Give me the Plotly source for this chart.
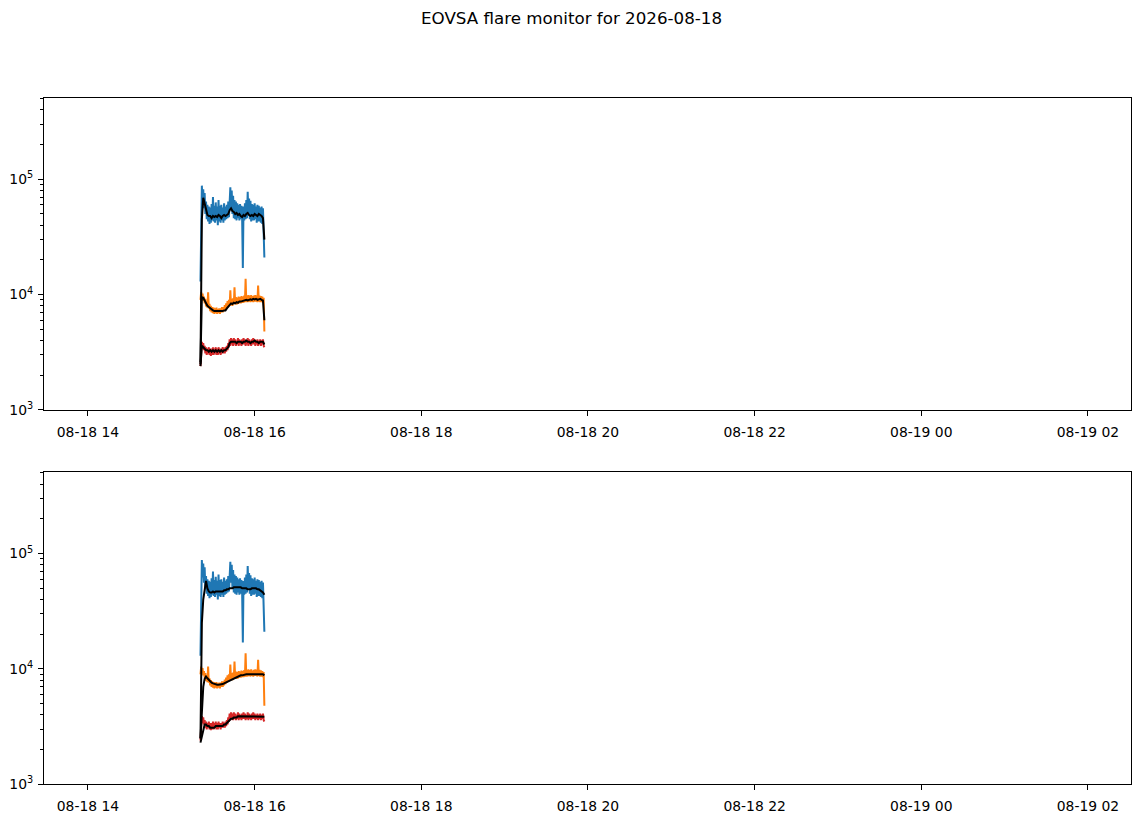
import pandas as pd
import plotly.graph_objects as go

# raw flux, three channels, sampled every 30 s from 15:21 UT
blue = [1.3e4, 4.0e4, 8.8e4, 6.2e4, 8.2e4, 5.6e4, 7.6e4, 5.0e4, 6.4e4, 4.5e4,
        6.0e4, 4.3e4, 5.8e4, 4.1e4, 5.7e4, 4.2e4, 6.1e4, 4.4e4, 7.0e4, 4.3e4,
        5.9e4, 4.2e4, 6.3e4, 4.4e4, 5.8e4, 4.0e4, 6.6e4, 4.3e4, 5.9e4, 4.2e4,
        6.0e4, 4.4e4, 5.7e4, 4.2e4, 6.2e4, 4.4e4, 5.8e4, 4.5e4, 6.0e4, 4.6e4,
        6.4e4, 4.7e4, 7.0e4, 8.5e4, 5.6e4, 8.0e4, 5.0e4, 7.2e4, 4.6e4, 6.6e4,
        4.5e4, 6.4e4, 4.4e4, 6.2e4, 4.6e4, 6.0e4, 4.4e4, 6.1e4, 4.5e4, 5.9e4,
        4.6e4, 1.7e4, 5.8e4, 4.4e4, 6.2e4, 4.5e4, 6.6e4, 4.6e4, 7.8e4, 5.0e4,
        6.8e4, 4.5e4, 6.5e4, 4.3e4, 6.1e4, 4.4e4, 6.0e4, 4.4e4, 6.2e4, 4.5e4,
        5.8e4, 4.2e4, 6.0e4, 4.3e4, 5.9e4, 4.3e4, 5.7e4, 4.2e4, 5.8e4, 4.1e4,
        5.6e4, 4.0e4, 2.1e4]
orange = [9.0e3, 1.05e4, 9.4e3, 1.02e4, 8.8e3, 9.6e3, 8.4e3, 9.2e3, 7.9e3, 8.6e3,
          7.7e3, 1.05e4, 7.6e3, 8.3e3, 7.2e3, 8.0e3, 7.0e3, 7.8e3, 6.9e3, 7.7e3,
          6.8e3, 7.6e3, 6.9e3, 7.7e3, 6.8e3, 7.5e3, 6.9e3, 7.6e3, 6.8e3, 7.6e3,
          7.0e3, 7.8e3, 7.0e3, 7.8e3, 7.2e3, 8.1e3, 7.4e3, 8.4e3, 7.6e3, 8.8e3,
          7.8e3, 9.0e3, 8.0e3, 1.09e4, 8.1e3, 9.2e3, 8.0e3, 9.3e3, 8.2e3, 1.16e4,
          8.3e3, 9.5e3, 8.2e3, 9.4e3, 8.3e3, 9.6e3, 8.4e3, 9.5e3, 8.4e3, 9.7e3,
          8.5e3, 9.6e3, 8.5e3, 9.8e3, 8.6e3, 1.37e4, 8.6e3, 9.8e3, 8.6e3, 9.9e3,
          8.7e3, 9.8e3, 8.6e3, 9.9e3, 8.7e3, 9.7e3, 8.6e3, 9.8e3, 8.7e3, 9.9e3,
          8.7e3, 9.8e3, 8.6e3, 1.2e4, 8.7e3, 9.8e3, 8.6e3, 9.7e3, 8.6e3, 9.6e3,
          8.5e3, 9.4e3, 4.8e3]
red = [2.4e3, 3.0e3, 3.9e3, 3.4e3, 3.8e3, 3.3e3, 3.6e3, 3.1e3, 3.5e3, 3.0e3,
       3.4e3, 3.1e3, 3.5e3, 3.0e3, 3.4e3, 2.95e3, 3.4e3, 3.0e3, 3.5e3, 3.0e3,
       3.4e3, 3.1e3, 3.5e3, 3.0e3, 3.4e3, 3.0e3, 3.5e3, 3.1e3, 3.4e3, 3.0e3,
       3.4e3, 3.1e3, 3.5e3, 3.1e3, 3.4e3, 3.1e3, 3.5e3, 3.2e3, 3.6e3, 3.3e3,
       3.8e3, 3.5e3, 4.1e3, 3.6e3, 4.2e3, 3.7e3, 4.1e3, 3.6e3, 4.2e3, 3.7e3,
       4.1e3, 3.6e3, 4.0e3, 3.7e3, 4.2e3, 3.6e3, 4.1e3, 3.7e3, 4.0e3, 3.6e3,
       4.1e3, 3.7e3, 4.2e3, 3.7e3, 4.1e3, 3.6e3, 4.0e3, 3.7e3, 4.2e3, 3.6e3,
       4.1e3, 3.7e3, 4.0e3, 3.6e3, 4.1e3, 3.7e3, 4.2e3, 3.7e3, 4.1e3, 3.6e3,
       4.0e3, 3.7e3, 4.1e3, 3.6e3, 4.0e3, 3.7e3, 4.1e3, 3.6e3, 4.0e3, 3.7e3,
       4.1e3, 3.6e3, 3.5e3]

# smoothed curves (one per minute from 15:21), top panel
top_blue = [2.5e3, 4.5e4, 6.9e4, 6.0e4, 5.3e4, 4.9e4, 4.8e4, 4.8e4,
            4.6e4, 4.8e4, 4.7e4, 4.8e4, 4.7e4, 4.9e4, 4.8e4, 4.6e4,
            4.8e4, 4.9e4, 4.8e4, 4.9e4, 5.0e4, 5.4e4, 5.6e4, 5.3e4,
            5.2e4, 5.0e4, 5.1e4, 4.9e4, 5.0e4, 4.8e4, 4.7e4, 4.9e4,
            4.8e4, 5.0e4, 5.1e4, 4.9e4, 4.8e4, 4.9e4, 4.8e4, 5.0e4,
            4.9e4, 4.8e4, 5.0e4, 4.9e4, 4.8e4, 4.6e4, 3.0e4]
top_orange = [2.6e3, 9.5e3, 9.4e3, 8.8e3, 8.3e3, 8.0e3, 7.8e3, 7.6e3,
              7.4e3, 7.3e3, 7.2e3, 7.2e3, 7.1e3, 7.2e3, 7.2e3, 7.1e3,
              7.2e3, 7.3e3, 7.3e3, 7.6e3, 7.9e3, 8.1e3, 8.4e3, 8.3e3,
              8.5e3, 8.4e3, 8.6e3, 8.5e3, 8.7e3, 8.7e3, 8.8e3, 8.8e3,
              8.9e3, 9.0e3, 8.9e3, 9.0e3, 9.1e3, 9.0e3, 9.2e3, 9.1e3,
              9.2e3, 9.0e3, 9.1e3, 9.2e3, 9.0e3, 8.9e3, 6.0e3]
top_red = [2.4e3, 3.6e3, 3.5e3, 3.4e3, 3.3e3, 3.3e3, 3.2e3, 3.3e3,
           3.2e3, 3.3e3, 3.2e3, 3.3e3, 3.2e3, 3.3e3, 3.2e3, 3.3e3,
           3.2e3, 3.3e3, 3.3e3, 3.4e3, 3.5e3, 3.8e3, 3.9e3, 3.9e3,
           3.9e3, 3.9e3, 3.8e3, 3.9e3, 3.9e3, 3.9e3, 3.8e3, 3.9e3,
           3.9e3, 4.0e3, 3.9e3, 3.9e3, 3.8e3, 3.9e3, 3.9e3, 4.0e3,
           3.9e3, 3.9e3, 3.8e3, 3.9e3, 3.9e3, 3.9e3, 3.7e3]

# smoothed curves, bottom panel
bot_blue = [2.5e3, 2.5e4, 4.0e4, 5.0e4, 5.8e4, 5.0e4, 4.7e4, 4.6e4,
            4.6e4, 4.7e4, 4.6e4, 4.7e4, 4.7e4, 4.7e4, 4.7e4, 4.7e4,
            4.7e4, 4.8e4, 4.8e4, 4.9e4, 4.9e4, 5.0e4, 5.0e4, 5.0e4,
            5.1e4, 5.1e4, 5.1e4, 5.1e4, 5.1e4, 5.1e4, 5.0e4, 5.0e4,
            5.0e4, 5.0e4, 4.9e4, 4.9e4, 4.9e4, 5.0e4, 5.0e4, 5.0e4,
            5.0e4, 4.9e4, 4.9e4, 4.8e4, 4.7e4, 4.6e4, 4.4e4]
bot_orange = [2.5e3, 5.0e3, 7.0e3, 8.2e3, 8.6e3, 8.3e3, 8.0e3, 7.8e3,
              7.6e3, 7.5e3, 7.4e3, 7.3e3, 7.3e3, 7.3e3, 7.3e3, 7.3e3,
              7.4e3, 7.5e3, 7.6e3, 7.7e3, 7.8e3, 8.0e3, 8.1e3, 8.2e3,
              8.3e3, 8.4e3, 8.5e3, 8.6e3, 8.7e3, 8.8e3, 8.8e3, 8.9e3,
              8.9e3, 9.0e3, 9.0e3, 9.0e3, 9.1e3, 9.1e3, 9.1e3, 9.1e3,
              9.1e3, 9.1e3, 9.1e3, 9.1e3, 9.1e3, 9.0e3, 8.8e3]
bot_red = [2.3e3, 2.6e3, 3.0e3, 3.3e3, 3.3e3, 3.2e3, 3.2e3, 3.1e3,
           3.1e3, 3.1e3, 3.1e3, 3.2e3, 3.2e3, 3.2e3, 3.2e3, 3.2e3,
           3.2e3, 3.3e3, 3.3e3, 3.4e3, 3.5e3, 3.6e3, 3.7e3, 3.7e3,
           3.8e3, 3.8e3, 3.8e3, 3.9e3, 3.9e3, 3.9e3, 3.9e3, 3.9e3,
           3.9e3, 3.9e3, 3.9e3, 3.9e3, 3.9e3, 3.9e3, 3.9e3, 3.9e3,
           3.9e3, 3.9e3, 3.9e3, 3.9e3, 3.9e3, 3.9e3, 3.85e3]

xticks = ["2026-08-18 14:00", "2026-08-18 16:00", "2026-08-18 18:00", "2026-08-18 20:00",
          "2026-08-18 22:00", "2026-08-19 00:00", "2026-08-19 02:00"]
xticklabels = ["08-18 14", "08-18 16", "08-18 18", "08-18 20", "08-18 22", "08-19 00", "08-19 02"]
yticks = [1e3, 1e4, 1e5]
yticklabels = ["10<sup>3</sup>", "10<sup>4</sup>", "10<sup>5</sup>"]
yminor = [m * 10 ** e for e in (3, 4, 5) for m in range(2, 10)]

t_raw = pd.date_range("2026-08-18 15:21", periods=len(blue), freq="30s")
t_smooth = pd.date_range("2026-08-18 15:21", periods=len(top_blue), freq="60s")

W, H = 1143, 826
fig = go.Figure()

panels = [
    ("x", "y", top_blue, top_orange, top_red),
    ("x2", "y2", bot_blue, bot_orange, bot_red),
]
for xa, ya, sb, so, sr in panels:
    for vals, col in [(blue, "#1f77b4"), (orange, "#ff7f0e"), (red, "#d62728")]:
        fig.add_trace(go.Scatter(x=t_raw, y=vals, mode="lines", line=dict(color=col, width=2),
                                 xaxis=xa, yaxis=ya, showlegend=False, hoverinfo="skip"))
    for vals in (sb, so, sr):
        fig.add_trace(go.Scatter(x=t_smooth, y=vals, mode="lines", line=dict(color="black", width=2),
                                 xaxis=xa, yaxis=ya, showlegend=False, hoverinfo="skip"))


def ydom(top_px, bot_px):
    return [(H - bot_px) / H, (H - top_px) / H]


common_x = dict(
    type="date", range=["2026-08-18 13:28:20", "2026-08-19 02:31:00"],
    tickmode="array", tickvals=xticks, ticktext=xticklabels,
    showgrid=False, zeroline=False, showline=True, linecolor="black", linewidth=1,
    mirror=True, ticks="outside", ticklen=5, tickcolor="black", ticklabelstandoff=4,
    tickfont=dict(family="DejaVu Sans", size=13.9, color="black"),
    domain=[44 / W, 1131 / W],
)
common_y = dict(
    type="log", range=[3, 5.704],
    tickmode="array", tickvals=yticks, ticktext=yticklabels,
    showgrid=False, zeroline=False, showline=True, linecolor="black", linewidth=1,
    mirror=True, ticks="outside", ticklen=5, tickcolor="black", ticklabelstandoff=2,
    minor=dict(tickvals=yminor, ticks="outside", ticklen=3, tickcolor="black", showgrid=False),
    tickfont=dict(family="DejaVu Sans", size=13.9, color="black"),
)

fig.update_layout(
    width=W, height=H,
    margin=dict(l=0, r=0, t=0, b=0),
    paper_bgcolor="white", plot_bgcolor="white",
    xaxis=dict(common_x, anchor="y"),
    yaxis=dict(common_y, domain=ydom(99, 414), anchor="x"),
    xaxis2=dict(common_x, anchor="y2"),
    yaxis2=dict(common_y, domain=ydom(477, 792), anchor="x2"),
    annotations=[dict(
        text="EOVSA flare monitor for 2026-08-18", x=571 / W, y=(H - 18) / H,
        xref="paper", yref="paper", xanchor="center", yanchor="middle", showarrow=False,
        font=dict(family="DejaVu Sans", size=16.7, color="black"),
    )],
)

# drop the default page margin so the figure fills the window exactly
fig.write_html("out.html", config={"displayModeBar": False},
               post_script="document.body.style.margin='0';"
                           "document.body.style.overflow='hidden';")
